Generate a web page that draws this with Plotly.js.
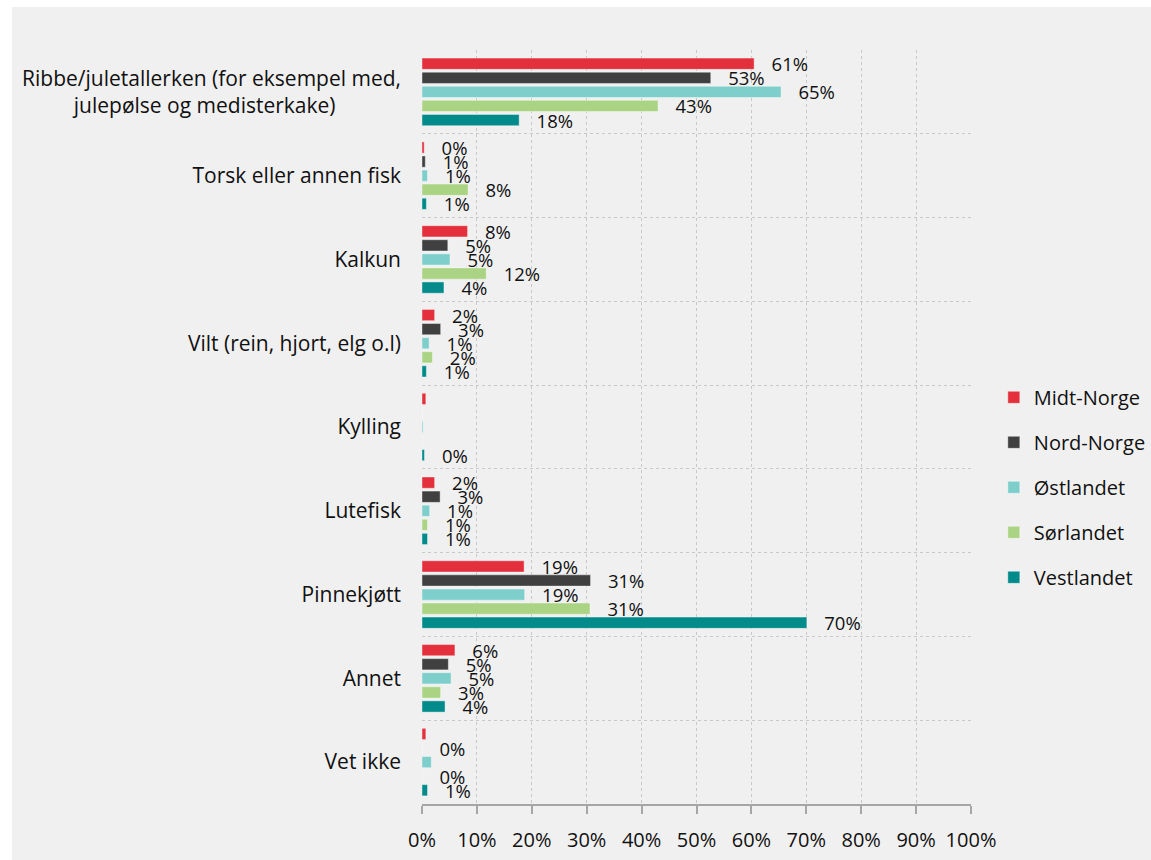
<!DOCTYPE html>
<html>
<head>
<meta charset="utf-8">
<script src="https://cdn.plot.ly/plotly-3.0.1.min.js"></script>
<style>
  html, body { margin: 0; padding: 0; background: #ffffff; width: 1151px; height: 860px; overflow: hidden; }
  #chart { position: absolute; left: 12px; top: 7px; width: 1139px; height: 853px; }
</style>
</head>
<body>
<div id="chart"></div>
<script>
// Categories (top to bottom)
const categories = [
  'Ribbe/juletallerken (for eksempel med,<br>julepølse og medisterkake)' + '\u00a0'.repeat(12),
  'Torsk eller annen fisk',
  'Kalkun',
  'Vilt (rein, hjort, elg o.l)',
  'Kylling',
  'Lutefisk',
  'Pinnekjøtt',
  'Annet',
  'Vet ikke'
];

const seriesNames = ['Midt-Norge', 'Nord-Norge', 'Østlandet', 'Sørlandet', 'Vestlandet'];

// Values (%)
const midtNorge  = [60.5, 0.4, 8.3, 2.3, 0.7, 2.3, 18.6, 6.0, 0.7];
const nordNorge  = [52.6, 0.6, 4.7, 3.4, 0.0, 3.3, 30.7, 4.8, 0.0];
const ostlandet  = [65.4, 1.0, 5.1, 1.3, 0.2, 1.4, 18.7, 5.3, 1.7];
const sorlandet  = [43.0, 8.4, 11.7, 1.9, 0.0, 1.0, 30.6, 3.4, 0.0];
const vestlandet = [17.7, 0.8, 4.0, 0.8, 0.45, 1.0, 70.1, 4.2, 1.0];

// Data labels as shown in the chart ('' = no label)
const midtLabels  = ['61%', '0%', '8%', '2%', '', '2%', '19%', '6%', ''];
const nordLabels  = ['53%', '1%', '5%', '3%', '', '3%', '31%', '5%', '0%'];
const ostLabels   = ['65%', '1%', '5%', '1%', '', '1%', '19%', '5%', ''];
const sorLabels   = ['43%', '8%', '12%', '2%', '', '1%', '31%', '3%', '0%'];
const vestLabels  = ['18%', '1%', '4%', '1%', '0%', '1%', '70%', '4%', '1%'];

// X axis ticks
const xTickVals  = [0, 10, 20, 30, 40, 50, 60, 70, 80, 90, 100];
const xTickText  = ['0%', '10%', '20%', '30%', '40%', '50%', '60%', '70%', '80%', '90%', '100%'];

const colors = ['#e3303c', '#404040', '#7ecfcc', '#aad484', '#038b8b'];
const allValues = [midtNorge, nordNorge, ostlandet, sorlandet, vestlandet];
const allLabels = [midtLabels, nordLabels, ostLabels, sorLabels, vestLabels];

const pad = '\u00a0\u00a0\u00a0';
const traces = seriesNames.map((name, i) => ({
  type: 'bar',
  orientation: 'h',
  name: name,
  y: categories,
  x: allValues[i],
  text: allLabels[i].map(t => t ? pad + t : ''),
  texttemplate: '%{text}',
  textposition: 'outside',
  constraintext: 'none',
  cliponaxis: false,
  textfont: { family: 'Open Sans', size: 18.5, color: '#111111' },
  marker: { color: colors[i], line: { color: 'rgba(255,255,255,0.5)', width: 0.8 } },
  legendgroup: 'g' + i,
  hoverinfo: 'skip'
}));

const layout = {
  width: 1139,
  height: 853,
  margin: { l: 410, r: 179.5, t: 43, b: 56, autoexpand: false },
  paper_bgcolor: '#f0f0f0',
  plot_bgcolor: '#f0f0f0',
  font: { family: 'Open Sans', size: 21, color: '#111111' },
  barmode: 'group',
  bargap: 0.16,
  bargroupgap: 0.2,
  showlegend: true,
  legend: {
    xref: 'container',
    x: 0.862, xanchor: 'left',
    y: 0.42, yanchor: 'middle',
    traceorder: 'grouped',
    tracegroupgap: 16,
    font: { family: 'Open Sans', size: 20, color: '#111111' },
    bgcolor: 'rgba(0,0,0,0)'
  },
  xaxis: {
    range: [0, 100],
    tickvals: xTickVals,
    ticktext: xTickText,
    showline: true,
    linecolor: '#a6a6a6',
    linewidth: 2,
    ticks: 'outside',
    ticklen: 8,
    tickwidth: 2,
    tickcolor: '#a6a6a6',
    showgrid: true,
    gridcolor: '#c8c8c8',
    griddash: '3px,3px',
    gridwidth: 1,
    zeroline: false,
    ticklabelstandoff: 9,
    tickfont: { family: 'Open Sans', size: 20, color: '#111111' },
    fixedrange: true
  },
  yaxis: {
    type: 'category',
    autorange: 'reversed',
    tickson: 'boundaries',
    ticks: '',
    showgrid: true,
    gridcolor: '#c8c8c8',
    griddash: '3px,3px',
    gridwidth: 1,
    showline: false,
    zeroline: false,
    ticklabelstandoff: 20,
    tickfont: { family: 'Open Sans', size: 21, color: '#111111' },
    fixedrange: true
  }
};

Plotly.newPlot('chart', traces, layout, { displayModeBar: false, staticPlot: true });
</script>
</body>
</html>
